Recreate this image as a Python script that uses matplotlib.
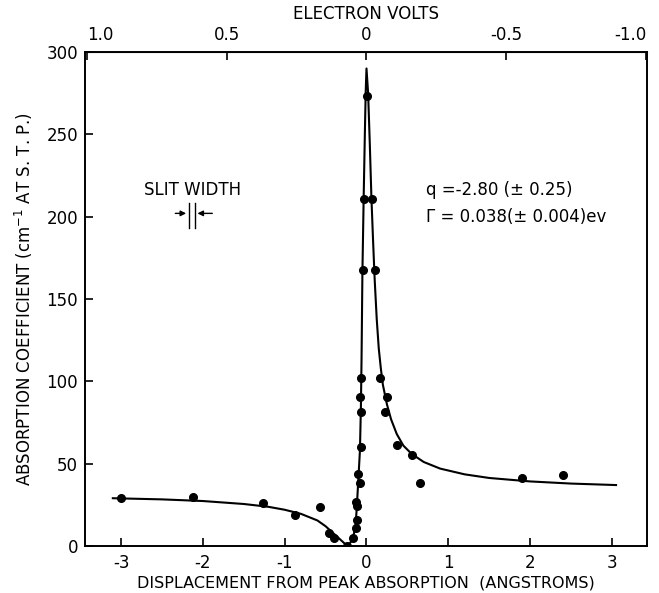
import matplotlib
matplotlib.use("Agg")
import matplotlib.pyplot as plt

# fitted curve (displacement in angstroms, absorption)
curve_x = [-3.1, -2.5, -2.0, -1.5, -1.2, -1.0, -0.8, -0.6, -0.5, -0.4, -0.3,
           -0.235, -0.19, -0.16, -0.135, -0.12, -0.1, -0.08, -0.068, -0.06,
           -0.05, -0.035, -0.02, -0.01, 0.0, 0.02, 0.04, 0.06, 0.08, 0.1,
           0.125, 0.15, 0.175, 0.2, 0.25, 0.3, 0.37, 0.45, 0.55, 0.7, 0.9,
           1.2, 1.5, 2.0, 2.5, 3.05]
curve_y = [29, 28.3, 27.3, 25.5, 23.8, 22, 19.5, 15.5, 12, 7.5, 3,
           0, 2.5, 6, 12, 22, 40, 58, 85, 115,
           165, 210, 250, 275, 290, 275, 245, 212, 186, 162,
           138, 120, 108, 98, 86, 77, 68, 61, 56, 51, 47,
           43.5, 41.3, 39.2, 37.9, 37]

# measured points
pts_x = [-3.0, -2.12, -1.27, -0.87, -0.57, -0.46, -0.40, -0.235, -0.167,
         -0.134, -0.122, -0.118, -0.126, -0.106, -0.08, -0.065, -0.07,
         -0.077, -0.065, -0.045, -0.033, 0.008, 0.065, 0.10, 0.167, 0.232,
         0.248, 0.37, 0.557, 0.655, 1.90, 2.40]
pts_y = [29, 30, 26, 19, 23.5, 8, 5, 0, 5,
         11, 16, 24, 27, 43.5, 38.5, 60, 81.5,
         90.5, 102, 167.5, 210.5, 273, 210.5, 167.5, 102, 81.5,
         90.5, 61.5, 55, 38.5, 41.5, 43]

x_ticks = [-3, -2, -1, 0, 1, 2, 3]
y_ticks = [0, 50, 100, 150, 200, 250, 300]
ev_ticks = [1.0, 0.5, 0.0, -0.5, -1.0]
ev_labels = ["1.0", "0.5", "0", "-0.5", "-1.0"]
ang_per_ev = 3.42

plt.rcParams["font.family"] = "DejaVu Sans"
fig = plt.figure(figsize=(6.59, 5.93), dpi=100)
ax = fig.add_axes([0.129, 0.0793, 0.853, 0.833])

ax.plot(curve_x, curve_y, "k-", lw=1.5)
ax.plot(pts_x, pts_y, "ko", ms=5.5)

ax.set_xlim(-3.44, 3.43)
ax.set_ylim(0, 300)
ax.set_xticks(x_ticks)
ax.set_xticklabels([str(t) for t in x_ticks])
ax.set_yticks(y_ticks)
ax.tick_params(direction="in", length=6, width=1.2, labelsize=12, colors="k")
ax.tick_params(axis="x", pad=6)
ax.tick_params(axis="y", pad=5)
for s in ax.spines.values():
    s.set_linewidth(1.4)

ax.set_xlabel("DISPLACEMENT FROM PEAK ABSORPTION  (ANGSTROMS)", fontsize=11.5, labelpad=2)
ax.set_ylabel("ABSORPTION COEFFICIENT (cm$^{-1}$ AT S. T. P.)", fontsize=12, labelpad=8)

top = ax.secondary_xaxis("top", functions=(lambda x: -x / ang_per_ev,
                                           lambda e: -e * ang_per_ev))
top.set_xticks(ev_ticks)
top.set_xticklabels(ev_labels)
top.tick_params(direction="in", length=6, width=1.2, labelsize=12, pad=6)
top.set_xlabel("ELECTRON VOLTS", fontsize=12, labelpad=5)
top_labels = top.get_xticklabels()
top_labels[0].set_ha("left")
top_labels[-1].set_ha("right")

# slit width marker
ax.text(-2.12, 216, "SLIT WIDTH", fontsize=12, ha="center", va="center")
ax.plot([-2.17, -2.17], [193, 208], "k-", lw=1)
ax.plot([-2.10, -2.10], [193, 208], "k-", lw=1)
ax.annotate("", xy=(-2.17, 202), xytext=(-2.37, 202),
            arrowprops=dict(arrowstyle="-|>", color="k", lw=1, mutation_scale=8))
ax.annotate("", xy=(-2.10, 202), xytext=(-1.85, 202),
            arrowprops=dict(arrowstyle="-|>", color="k", lw=1, mutation_scale=8))

ax.text(0.73, 216, "q =-2.80 (\u00b1 0.25)", fontsize=12, ha="left", va="center")
ax.text(0.73, 200, "\u0393 = 0.038(\u00b1 0.004)ev", fontsize=12, ha="left", va="center")

fig.savefig("out.png", dpi=100)
